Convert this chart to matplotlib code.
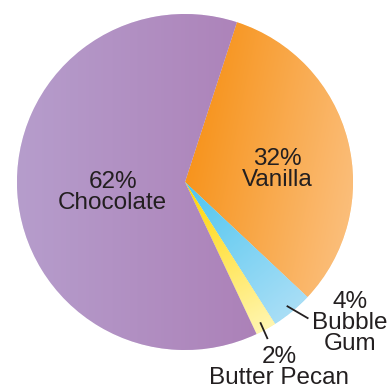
import numpy as np
import matplotlib.pyplot as plt
from matplotlib.colors import LinearSegmentedColormap

flavors = ['Vanilla', 'Bubble\nGum', 'Butter Pecan', 'Chocolate']
shares = [32, 4, 2, 62]
# gradient colours (inner/left, outer/right)
grad = [('#f7941d', '#fbbd78'), ('#4ec5ef', '#a8def6'),
        ('#ffd400', '#fff6b0'), ('#b69dcc', '#a876b0')]
# label anchors in pie units and leader lines
label_xy = [(0.55, 0.075), (0.98, -0.84), (0.56, -1.105), (-0.43, -0.06)]
leaders = [None, [(0.61, -0.74), (0.73, -0.81)], [(0.45, -0.84), (0.49, -0.93)], None]

fig = plt.figure(figsize=(3.92, 3.88), dpi=100)
ax = fig.add_axes([0, 0, 1, 1])
r_px, cx, cy = 168.0, 185.0, 182.0

wedges, _ = ax.pie(shares, startangle=72, counterclock=False, radius=1,
                   colors=[g[0] for g in grad],
                   wedgeprops=dict(linewidth=0.4, edgecolor='white'))
ax.set_aspect('equal')
ax.axis('off')

xx, yy = np.meshgrid(np.linspace(-1, 1, 400), np.linspace(-1, 1, 400))
for w, (c0, c1) in zip(wedges, grad):
    cmap = LinearSegmentedColormap.from_list('g', [c0, c1])
    if c0 == grad[3][0]:
        g = (xx + 1) / 2
    else:
        mid = np.deg2rad((w.theta1 + w.theta2) / 2)
        d = np.array([np.cos(mid), np.sin(mid)])
        if c0 == grad[0][0]:
            d = np.array([1.0, -0.2])
        g = np.clip(xx * d[0] + yy * d[1], 0, 1)
    im = ax.imshow(g, cmap=cmap, extent=[-1, 1, -1, 1], origin='lower',
                   interpolation='bilinear', zorder=2)
    im.set_clip_path(w)
ax.set_xlim(-cx / r_px, (392 - cx) / r_px)
ax.set_ylim(-(388 - cy) / r_px, cy / r_px)

font = ['Liberation Sans', 'DejaVu Sans']
for name, s, (x, y), ld in zip(flavors, shares, label_xy, leaders):
    ax.text(x, y, f'{s}%\n{name}', ha='center', va='center', fontsize=17.5,
            family=font, color='#231f20', linespacing=0.95, zorder=5)
    if ld:
        ax.plot([ld[0][0], ld[1][0]], [ld[0][1], ld[1][1]], color='#231f20',
                lw=1.3, zorder=5)

fig.savefig('out.png', dpi=100)
